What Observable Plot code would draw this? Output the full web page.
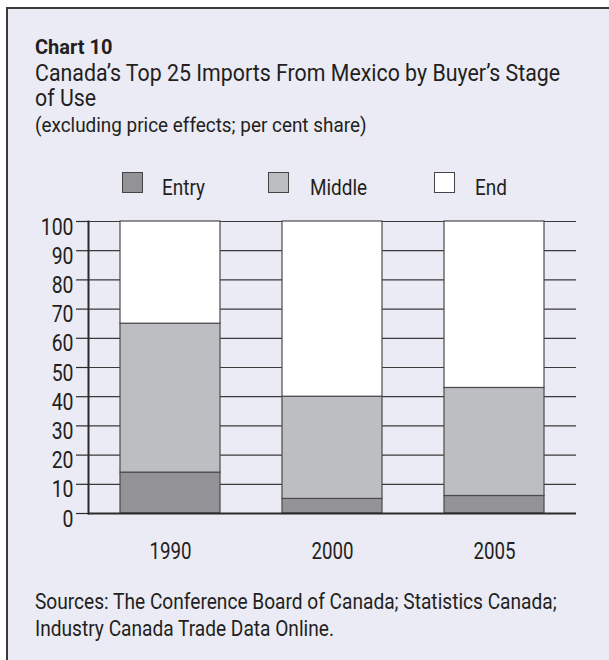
<!DOCTYPE html>
<html>
<head>
<meta charset="utf-8">
<script src="https://cdn.jsdelivr.net/npm/d3@7"></script>
<script src="https://cdn.jsdelivr.net/npm/@observablehq/plot@0.6"></script>
<style>
  html, body { margin: 0; padding: 0; width: 609px; height: 660px; overflow: hidden; background: #ffffff; }
  body { position: relative; font-family: Roboto, "Liberation Sans", sans-serif; color: #231f20; }
  #panel { position: absolute; left: 6px; top: 7px; width: 640px; height: 700px; background: #ebebf5; border-left: 2px solid #3a3a3a; border-top: 2px solid #3a3a3a; }
  .t { position: absolute; left: 35px; white-space: nowrap; line-height: 1; transform-origin: 0 0; }
  #legend { position: absolute; left: 0; top: 0; }
  .sw { position: absolute; width: 21px; height: 21px; border: 1px solid #444; box-sizing: border-box; }
  .lt { position: absolute; font-size: 22px; line-height: 1; white-space: nowrap; transform: scaleX(0.86); transform-origin: 0 0; }
  #chart { position: absolute; left: 0; top: 200px; }
</style>
</head>
<body>
<div id="panel"></div>
<div class="t" style="top:36.5px;font-size:20px;font-weight:bold;">Chart 10</div>
<div class="t" style="top:61.7px;font-size:23px;transform:scaleX(0.928);">Canada’s Top 25 Imports From Mexico by Buyer’s Stage</div>
<div class="t" style="top:87.3px;font-size:23px;transform:scaleX(0.928);">of Use</div>
<div class="t" style="top:115px;font-size:21px;transform:scaleX(0.9);">(excluding price effects; per cent share)</div>
<div id="legend"></div>
<div id="chart"></div>
<div class="t" style="top:590.5px;font-size:22px;transform:scaleX(0.869);">Sources: The Conference Board of Canada; Statistics Canada;</div>
<div class="t" style="top:618px;font-size:22px;transform:scaleX(0.869);">Industry Canada Trade Data Online.</div>
<script>
const years = ["1990", "2000", "2005"];
const stages = ["Entry", "Middle", "End"];
const entry = [14, 5, 6];
const middle = [51, 35, 37];
const end = [35, 60, 57];
const stageColors = ["#939397", "#bdbec1", "#ffffff"];
const yTicks = [0, 10, 20, 30, 40, 50, 60, 70, 80, 90, 100];

const series = [entry, middle, end];
const data = [];
stages.forEach((s, i) => years.forEach((y, j) => data.push({year: y, stage: s, value: series[i][j]})));

// legend (HTML)
const legend = document.getElementById("legend");
const legendPos = [[122, 162], [268, 310], [434, 475]];
stages.forEach((s, i) => {
  const sw = document.createElement("div");
  sw.className = "sw";
  sw.style.left = legendPos[i][0] + "px";
  sw.style.top = "172px";
  sw.style.background = stageColors[i];
  legend.appendChild(sw);
  const lt = document.createElement("div");
  lt.className = "lt";
  lt.style.left = legendPos[i][1] + "px";
  lt.style.top = "177px";
  lt.textContent = s;
  legend.appendChild(lt);
});

const plot = Plot.plot({
  width: 609,
  height: 400,
  marginLeft: 88,
  marginRight: 33,
  marginTop: 21,
  marginBottom: 87,
  style: {background: "transparent", fontFamily: "Roboto, 'Liberation Sans', sans-serif", color: "#231f20", overflow: "visible"},
  x: {domain: years, paddingInner: 0.38, paddingOuter: 0.19, label: null, axis: null},
  y: {domain: [0, 100], label: null, axis: null},
  color: {domain: stages, range: stageColors},
  marks: [
    Plot.ruleY(yTicks.filter(d => d > 0), {stroke: "#3a3a3a", strokeWidth: 1.2}),
    Plot.barY(data, Plot.stackY({order: stages}, {x: "year", y: "value", fill: "stage", z: "stage", stroke: "#4a4a4a", strokeWidth: 1.2, inset: 0})),
    Plot.ruleY([0], {stroke: "#2a2a2a", strokeWidth: 2}),
    Plot.axisY({ticks: yTicks, tickSize: 12, tickPadding: 3, fontSize: 24, stroke: "#2a2a2a", strokeWidth: 1.2, label: null}),
    Plot.frame({anchor: "left", stroke: "#2a2a2a", strokeWidth: 2}),
    Plot.axisX({tickSize: 0, tickPadding: 28, fontSize: 24, label: null})
  ]
});
// condense tick label glyphs horizontally (reference uses a condensed face); y labels sit a bit below their ticks
plot.querySelectorAll('g[aria-label="y-axis tick label"] text').forEach(t => {
  const tr = t.getAttribute("transform") || "";
  t.setAttribute("transform", tr + " translate(0,5.5) scale(0.81,1)");
});
plot.querySelectorAll('g[aria-label="x-axis tick label"] text').forEach(t => {
  const tr = t.getAttribute("transform") || "";
  t.setAttribute("transform", tr + " scale(0.78,1)");
});
document.getElementById("chart").appendChild(plot);
</script>
</body>
</html>
